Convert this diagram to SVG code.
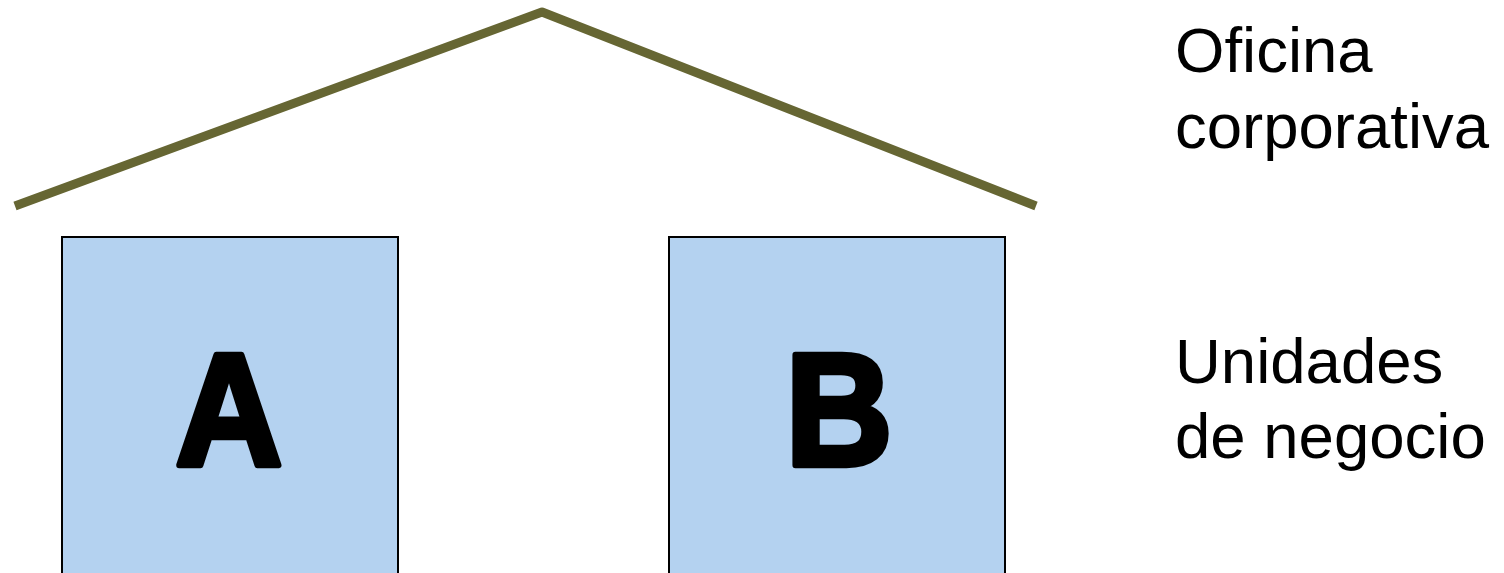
<svg xmlns="http://www.w3.org/2000/svg" width="1504" height="573" viewBox="0 0 1504 573">
<style>
.box{fill:#b4d2f0;stroke:#000;stroke-width:2}
.big{font-family:"Liberation Sans",Arial,sans-serif;font-weight:bold;font-size:148px;fill:#000;stroke:#000;stroke-width:6;stroke-linejoin:round;text-anchor:middle}
.lbl{font-family:"Liberation Sans",Arial,sans-serif;font-size:63.5px;fill:#000}
</style>
<rect width="1504" height="573" fill="#fff"/>
<g id="connectors">
<polyline points="15,206 542,12 1036,206" fill="none" stroke="#666633" stroke-width="9" stroke-linejoin="round"/>
</g>
<g id="nodeA">
<rect class="box" x="62" y="237" width="336" height="340"/>
<text class="big" transform="translate(229,465) scale(1,1.08)">A</text>
</g>
<g id="nodeB">
<rect class="box" x="669" y="237" width="336" height="340"/>
<text class="big" transform="translate(839,465) scale(1,1.08)">B</text>
</g>
<g id="labelTop">
<text class="lbl" x="1175" y="72">Oficina</text>
<text class="lbl" x="1175" y="148">corporativa</text>
</g>
<g id="labelBottom">
<text class="lbl" x="1175" y="383">Unidades</text>
<text class="lbl" x="1175" y="458">de negocio</text>
</g>
</svg>
